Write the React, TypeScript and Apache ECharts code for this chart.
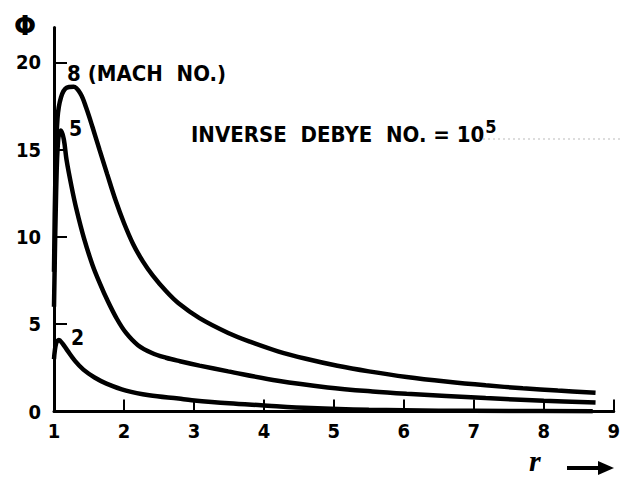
import React, { useEffect, useRef } from "react";
import * as echarts from "echarts";

const xTicks = [1, 2, 3, 4, 5, 6, 7, 8, 9];
const yTicks = [0, 5, 10, 15, 20];

const mach8X = [1.0, 1.02, 1.05, 1.1, 1.18, 1.28, 1.38, 1.46, 1.55, 1.65, 1.76, 1.88, 2.0, 2.13, 2.27, 2.41, 2.6, 2.78, 3.08, 3.49, 3.8, 4.2, 4.6, 5.05, 5.5, 6.04, 6.6, 7.17, 7.7, 8.2, 8.74];
const mach8Y = [8, 13.5, 16.8, 18.0, 18.55, 18.6, 18.2, 17.4, 16.3, 15.0, 13.6, 12.1, 10.8, 9.6, 8.6, 7.8, 6.9, 6.2, 5.35, 4.5, 4.0, 3.45, 3.02, 2.62, 2.3, 1.98, 1.72, 1.5, 1.33, 1.2, 1.08];

const mach5X = [1.0, 1.03, 1.06, 1.1, 1.14, 1.18, 1.25, 1.32, 1.43, 1.55, 1.66, 1.76, 1.9, 2.03, 2.2, 2.4, 2.6, 2.8, 3.08, 3.49, 4.2, 4.91, 5.55, 6.04, 7.17, 8.0, 8.74];
const mach5Y = [6, 12.5, 15.6, 16.1, 15.6, 14.4, 12.9, 11.6, 9.9, 8.4, 7.3, 6.4, 5.3, 4.5, 3.8, 3.35, 3.08, 2.88, 2.63, 2.3, 1.76, 1.38, 1.15, 1.02, 0.77, 0.62, 0.52];

const mach2X = [1.0, 1.03, 1.07, 1.12, 1.19, 1.3, 1.42, 1.58, 1.75, 2.03, 2.36, 2.78, 2.97, 3.5, 3.96, 4.67, 5.5, 6.5, 7.5, 8.7];
const mach2Y = [3.0, 3.9, 4.1, 3.9, 3.5, 2.9, 2.4, 1.95, 1.6, 1.2, 0.93, 0.74, 0.65, 0.47, 0.36, 0.2, 0.1, 0.05, 0.03, 0.02];

const machLabels = ["8", "5", "2"];

const pair = (xs: number[], ys: number[]) => xs.map((x, i) => [x, ys[i]]);

const FONT = "'DejaVu Sans Condensed', 'Liberation Sans Narrow', 'DejaVu Sans', sans-serif";

export default function App() {
  const ref = useRef<HTMLDivElement>(null);
  useEffect(() => {
    if (!ref.current) return;
    const chart = echarts.init(ref.current, undefined, { renderer: "svg" });
    const lineStyle = { color: "#000", width: 4.5 };
    const series = [
      { data: pair(mach8X, mach8Y) },
      { data: pair(mach5X, mach5Y) },
      { data: pair(mach2X, mach2Y) },
    ].map((s, i) => ({
      type: "line",
      name: machLabels[i],
      data: s.data,
      smooth: 0.35,
      showSymbol: false,
      symbol: "none",
      lineStyle,
      z: 3,
    }));
    chart.setOption({
      animation: false,
      backgroundColor: "#fff",
      grid: { left: 54, right: 5, top: 27.5, bottom: 67.5 },
      xAxis: {
        type: "value",
        min: xTicks[0],
        max: xTicks[xTicks.length - 1],
        interval: 1,
        axisLine: { show: true, lineStyle: { color: "#000", width: 3 } },
        axisTick: { show: true, inside: true, length: 12, lineStyle: { color: "#000", width: 2 } },
        axisLabel: {
          color: "#000",
          fontFamily: FONT,
          fontWeight: "bold",
          fontSize: 20,
          margin: 9,
          customValues: xTicks,
        },
        splitLine: { show: false },
      },
      yAxis: {
        type: "value",
        min: 0,
        max: 22,
        interval: 5,
        axisLine: { show: true, lineStyle: { color: "#000", width: 3 } },
        axisTick: {
          show: true,
          inside: true,
          length: 13,
          lineStyle: { color: "#000", width: 2 },
          customValues: yTicks.slice(1),
        },
        axisLabel: {
          color: "#000",
          fontFamily: FONT,
          fontWeight: "bold",
          fontSize: 20,
          margin: 13,
          customValues: yTicks,
        },
        splitLine: { show: false },
      },
      series,
      graphic: [
        { type: "text", left: 14, top: 13, style: { text: "Φ", font: "bold 26px 'DejaVu Sans', sans-serif", fill: "#000" } },
        { type: "text", left: 67, top: 62, style: { text: "8 (MACH  NO.)", font: `bold 22px ${FONT}`, fill: "#000" } },
        { type: "text", left: 69, top: 118, style: { text: "5", font: `bold 21px ${FONT}`, fill: "#000" } },
        { type: "text", left: 71, top: 327, style: { text: "2", font: `bold 21px ${FONT}`, fill: "#000" } },
        {
          type: "text",
          left: 191,
          top: 117,
          style: {
            text: "INVERSE  DEBYE  NO. = 10{s|5}",
            font: `bold 22px ${FONT}`,
            fill: "#000",
            rich: { s: { fontSize: 18, fontWeight: "bold", fontFamily: FONT, verticalAlign: "top", padding: [0, 0, 16, 1] } },
          } as any,
        },
        {
          type: "line",
          shape: { x1: 478, y1: 139, x2: 623, y2: 139 },
          style: { stroke: "#bbb", lineWidth: 1, lineDash: [2, 3] },
        },
        {
          type: "text",
          left: 529,
          top: 445,
          style: { text: "r", font: "italic bold 30px 'Liberation Serif', serif", lineHeight: 30, fill: "#000" },
        },
        {
          type: "line",
          shape: { x1: 567, y1: 468, x2: 602, y2: 468 },
          style: { stroke: "#000", lineWidth: 4 },
        },
        {
          type: "polygon",
          shape: { points: [[598, 461], [614, 468], [598, 475]] },
          style: { fill: "#000" },
        },
      ],
    });
    return () => chart.dispose();
  }, []);
  return (
    <div
      ref={ref}
      style={{ position: "absolute", left: 0, top: 0, width: 623, height: 479 }}
    />
  );
}
